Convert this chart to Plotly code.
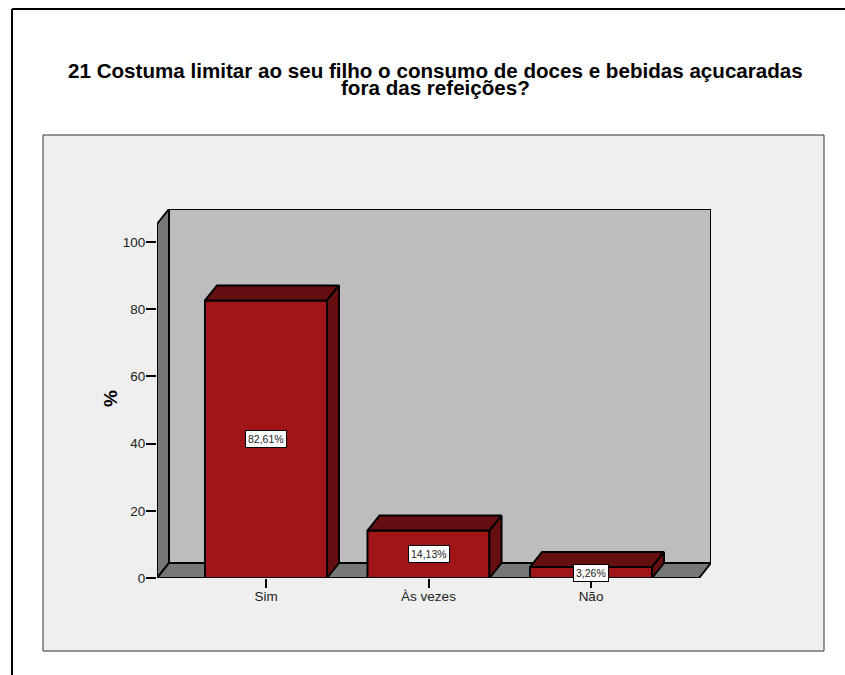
import plotly.graph_objects as go

categories = ["Sim", "Às vezes", "Não"]
percentages = [82.61, 14.13, 3.26]
value_labels = ["82,61%", "14,13%", "3,26%"]
y_ticks = [0, 20, 40, 60, 80, 100]
title_lines = ["21 Costuma limitar ao seu filho o consumo de doces e bebidas açucaradas",
               "fora das refeições?"]

W, H = 845, 675
FIG_H = 683             # the page draws the figure 8 px shorter than asked
PLOT_L, PLOT_R, PLOT_T, PLOT_B = 157, 711, 209, 578
PX_X = 162.5            # pixels per category
PX_Y = 3.36             # pixels per percentage point
CENTER0 = 266
BAR_W = 122 / PX_X
DX = 12 / PX_X          # 3D depth in axis units
DY = 15 / PX_Y
XMIN = (PLOT_L - CENTER0) / PX_X
XMAX = (PLOT_R - CENTER0) / PX_X
YMAX = (PLOT_B - PLOT_T) / PX_Y

BACK = "#bdbdbd"; WALL = "#777777"; FRONT = "#a01518"; DARK = "#660f11"; PANEL = "#efefef"
FONT = "Liberation Sans, Arial, sans-serif"


def poly(xs, ys, color, z):
    return go.Scatter(x=xs + xs[:1], y=ys + ys[:1], mode="lines", fill="toself", fillcolor=color,
                      line=dict(color="black", width=2), hoverinfo="skip", showlegend=False,
                      cliponaxis=False, zorder=z)


fig = go.Figure()
# walls and floor
fig.add_trace(poly([XMIN + DX, XMAX, XMAX, XMIN + DX], [DY, DY, YMAX, YMAX], BACK, 0))
fig.add_trace(poly([XMIN, XMIN + DX, XMIN + DX, XMIN], [0, DY, YMAX, YMAX - DY], WALL, 0))
fig.add_trace(poly([XMIN, XMIN + DX, XMAX, XMAX - DX], [0, DY, DY, 0], WALL, 0))
# bar fronts
fig.add_trace(go.Bar(x=list(range(len(categories))), y=percentages, width=BAR_W,
                     marker=dict(color=FRONT, line=dict(color="black", width=2)),
                     cliponaxis=False, showlegend=False, hoverinfo="skip", zorder=1))
# bar tops and sides
for i, v in enumerate(percentages):
    a, b = i - BAR_W / 2, i + BAR_W / 2
    fig.add_trace(poly([a, a + DX, b + DX, b], [v, v + DY, v + DY, v], DARK, 2))
    fig.add_trace(poly([b, b + DX, b + DX, b], [0, DY, v + DY, v], DARK, 2))

annotations = [
    dict(xref="x", yref="y", x=i, y=v / 2, text=t, showarrow=False, bgcolor="white",
         bordercolor="black", borderwidth=1, borderpad=2, font=dict(family=FONT, size=10.5, color="#222"))
    for i, (v, t) in enumerate(zip(percentages, value_labels))
]
for line, cy in zip(title_lines, [71, 88]):
    annotations.append(dict(xref="paper", yref="paper", x=435.5 / W, y=1 - cy / H, showarrow=False,
                            xanchor="center", yanchor="middle", text=f"<b>{line}</b>",
                            font=dict(family=FONT, size=20.6, color="black")))
annotations.append(dict(xref="paper", yref="paper", x=110 / W, y=1 - 399 / H, showarrow=False, textangle=-90,
                        xanchor="center", yanchor="middle", text="<b>%</b>",
                        font=dict(family=FONT, size=19, color="black")))

shapes = [
    dict(type="rect", xref="paper", yref="paper", x0=43 / W, x1=824 / W, y0=1 - 651 / H, y1=1 - 135 / H,
         fillcolor=PANEL, line=dict(color="#333333", width=1), layer="below"),
    dict(type="line", xref="paper", yref="paper", x0=12 / W, x1=1, y0=1 - 9 / H, y1=1 - 9 / H,
         line=dict(color="black", width=2), layer="below"),
    dict(type="line", xref="paper", yref="paper", x0=12 / W, x1=12 / W, y0=0, y1=1 - 9 / H,
         line=dict(color="black", width=2), layer="below"),
]

fig.update_layout(
    width=W, height=FIG_H, margin=dict(l=0, r=0, t=0, b=0), autosize=False,
    paper_bgcolor="white", plot_bgcolor="rgba(0,0,0,0)",
    annotations=annotations, shapes=shapes, showlegend=False, barmode="overlay",
    xaxis=dict(domain=[PLOT_L / W, PLOT_R / W], range=[XMIN, XMAX], tickmode="array",
               tickvals=list(range(len(categories))), ticktext=categories, ticks="outside",
               ticklen=9, tickwidth=2, tickcolor="black", showgrid=False, zeroline=False, showline=False,
               ticklabelstandoff=-3, tickfont=dict(family=FONT, size=13.5, color="#222")),
    yaxis=dict(domain=[1 - PLOT_B / H, 1 - PLOT_T / H], range=[0, YMAX], tickmode="array",
               tickvals=y_ticks, ticks="outside", ticklen=10, tickwidth=2, tickcolor="black",
               showgrid=False, zeroline=False, showline=False,
               ticklabelstandoff=-2, tickfont=dict(family=FONT, size=13.5, color="#222")),
)

fig.write_html("out.html", config={"displayModeBar": False, "responsive": False},
               post_script="document.body.style.margin='0';document.body.style.overflow='hidden';")
